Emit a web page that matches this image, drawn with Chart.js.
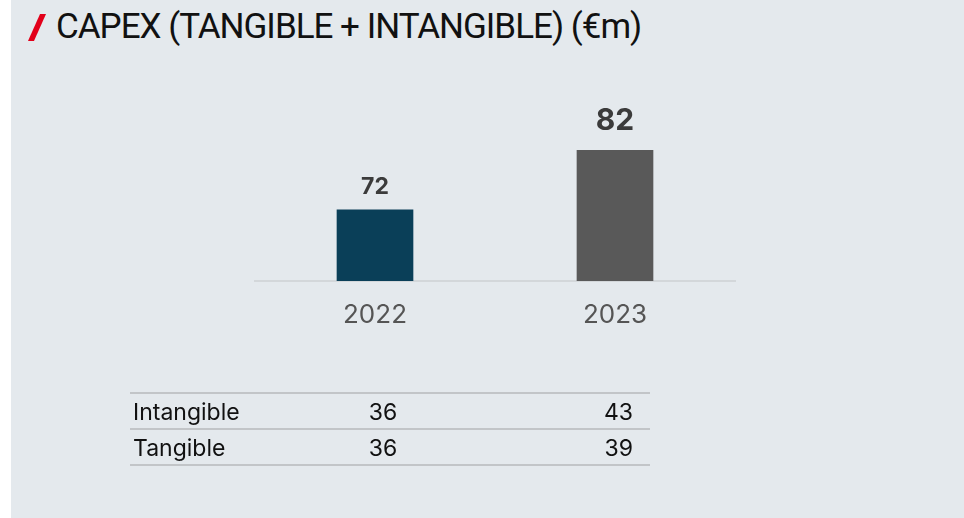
<!DOCTYPE html>
<html>
<head>
<meta charset="utf-8">
<script src="https://cdn.jsdelivr.net/npm/chart.js@4/dist/chart.umd.min.js"></script>
<style>
  html, body { margin: 0; padding: 0; background: #ffffff; }
  body { width: 964px; height: 518px; position: relative; overflow: hidden; font-family: Inter, "Open Sans", sans-serif; }
  #panel { position: absolute; left: 11px; top: 0; width: 953px; height: 518px; background: #e4e9ed; }
  #slash { position: absolute; left: 34px; top: 14px; width: 6px; height: 27px; background: #e2001a; transform: skewX(-24deg); }
  #title { position: absolute; left: 56px; top: 6px; font-family: Roboto, sans-serif; font-size: 35px; color: #111; letter-spacing: -1px; white-space: nowrap; }
  #chartWrap { position: absolute; left: 0; top: 0; width: 964px; height: 518px; }
  table { position: absolute; left: 130px; top: 392px; width: 520px; border-collapse: collapse; font-family: Inter, sans-serif; font-size: 23px; color: #111; }
  table tr { height: 36px; border-top: 2px solid #c2c5c8; border-bottom: 2px solid #c2c5c8; }
  td { padding: 0; padding-top: 2px; }
  td.lab { padding-left: 3px; width: 200px; }
  td.c1 { text-align: center; width: 100px; }
  td.c2 { text-align: right; padding-right: 17px; }
</style>
</head>
<body>
<div id="panel"></div>
<div id="slash"></div>
<div id="title">CAPEX (TANGIBLE + INTANGIBLE) (€m)</div>
<div id="chartWrap"><canvas id="c" width="964" height="518"></canvas></div>
<table id="tbl"></table>
<script>
const categories = ['2022', '2023'];
const totals = [72, 82];
const rowLabels = ['Intangible', 'Tangible'];
const intangible = [36, 43];
const tangible = [36, 39];

const barColors = ['#0a3f58', '#595959'];
const labelSizes = [23, 30];
const labelOffsets = [23, 29];

// Table
const tbl = document.getElementById('tbl');
[intangible, tangible].forEach((vals, i) => {
  const tr = document.createElement('tr');
  const l = document.createElement('td'); l.className = 'lab'; l.textContent = rowLabels[i]; tr.appendChild(l);
  const a = document.createElement('td'); a.className = 'c1'; a.textContent = vals[0]; tr.appendChild(a);
  const b = document.createElement('td'); b.className = 'c2'; b.textContent = vals[1]; tr.appendChild(b);
  tbl.appendChild(tr);
});

const valueLabels = {
  id: 'valueLabels',
  afterDatasetsDraw(chart) {
    const ctx = chart.ctx;
    const meta = chart.getDatasetMeta(0);
    ctx.save();
    ctx.fillStyle = '#3b3b3b';
    ctx.textAlign = 'center';
    ctx.textBaseline = 'middle';
    meta.data.forEach((bar, i) => {
      ctx.font = 'bold ' + labelSizes[i] + 'px Inter, sans-serif';
      ctx.fillText(String(totals[i]), bar.x, bar.y - labelOffsets[i]);
    });
    ctx.restore();
  }
};

new Chart(document.getElementById('c'), {
  type: 'bar',
  data: {
    labels: categories,
    datasets: [{
      data: totals,
      backgroundColor: barColors,
      barThickness: 76,
      borderWidth: 0
    }]
  },
  options: {
    responsive: false,
    animation: false,
    events: [],
    layout: { padding: { left: 255, right: 229, top: 97, bottom: 0 } },
    plugins: { legend: { display: false }, tooltip: { enabled: false } },
    scales: {
      x: {
        grid: { display: false, drawTicks: false },
        border: { display: true, color: '#d3d7da', width: 2 },
        ticks: { color: '#555555', font: { family: 'Inter, sans-serif', size: 26 }, padding: 19 },
        afterFit(scale) { scale.height = 237; }
      },
      y: {
        display: false,
        min: 60,
        max: 91
      }
    }
  },
  plugins: [valueLabels]
});
</script>
</body>
</html>
